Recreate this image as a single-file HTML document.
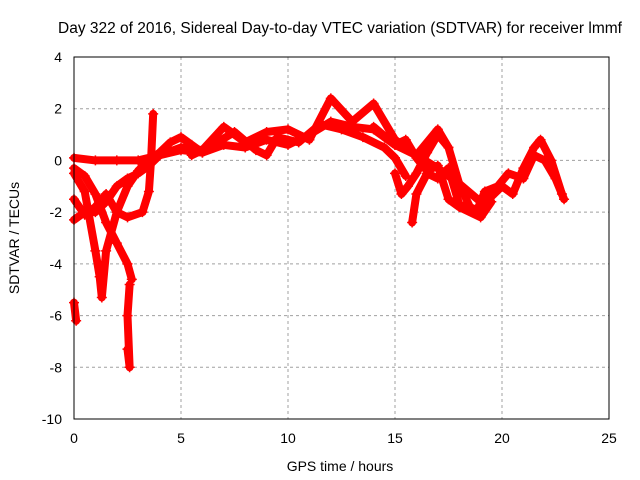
<!DOCTYPE html>
<html><head><meta charset="utf-8"><style>
body{margin:0;background:#fff}
svg{display:block;font-family:"Liberation Sans",sans-serif}
</style></head><body>
<svg id="chart" width="640" height="480" viewBox="0 0 640 480">
<text x="340" y="33" font-size="15.5" text-anchor="middle">Day 322 of 2016, Sidereal Day-to-day VTEC variation (SDTVAR) for receiver lmmf</text>
<text x="340" y="471" font-size="14" text-anchor="middle">GPS time / hours</text>
<text transform="translate(19,238) rotate(-90)" font-size="14" text-anchor="middle">SDTVAR / TECUs</text>
<g id="grid"></g><g id="ticks"></g><g id="series"></g>
<rect x="74" y="57" width="535" height="362" fill="none" stroke="#000" stroke-width="1"/>
</svg>
<script>
const xTicks=[0,5,10,15,20,25];
const yTicks=[4,2,0,-2,-4,-6,-8,-10];
const trackA=[[0,0.1],[1,0],[2,0],[3,0],[4,0.2],[5,0.4],[6,0.3],[7,0.6],[8,0.5],[9,0.8],[10,0.6],[11,1.0],[12,1.5],[13,1.3],[14,1.2],[15,0.6],[16,0.2],[17,-0.3],[18,-0.9],[19,-1.6],[20,-1.0]];
const trackB=[[0,-0.3],[0.5,-0.6],[1,-1.3],[1.5,-2.4],[2,-3.2],[2.5,-4.0],[2.7,-4.6]];
const trackC=[[0,-0.5],[0.5,-1.2],[1,-3.5],[1.2,-4.5],[1.3,-5.3],[1.5,-3.5],[2,-2],[2.5,-1],[3,-0.4],[3.5,0],[4,0.3],[4.5,0.7],[5,0.9],[5.5,0.6],[6,0.3]];
const trackD=[[0,-2.3],[0.5,-2],[1,-2],[1.5,-1.6],[2,-1],[2.5,-0.7],[3,-0.5],[3.5,-0.2],[4,0.2],[5,0.5],[6,0.4],[7,1.3],[8,0.7],[9,1.1],[10,1.2],[11,0.8],[12,2.4],[13,1.5],[14,2.2],[15,0.8],[16,0.2],[17,1.2],[17.5,0.5]];
const trackE=[[0,-1.5],[0.5,-2.1],[1,-1.8],[1.5,-1.3],[2,-2],[2.5,-2.2],[3.2,-2],[3.5,-1.2],[3.6,0],[3.7,1.8]];
const trackF=[[0,-5.5],[0.1,-6.2]];
const trackG=[[2.6,-4.8],[2.5,-6],[2.6,-8],[2.5,-7.3]];
const trackH=[[15,-0.5],[15.3,-1.3],[15.6,-1],[16,-0.5],[16.5,0.3],[17,1],[17.5,0.5],[18,-0.9],[18.5,-1.8],[19,-2],[19.5,-1.4],[20,-1],[20.5,-1.3],[21,-0.3],[21.5,0.5],[21.8,0.8],[22.3,0],[22.8,-1.3]];
const trackI=[[15.8,-2.4],[16,-1.3],[16.5,-0.5],[17,-0.7],[17.5,-0.3],[18,-1.7],[18.8,-2],[19.2,-1.2],[19.8,-1],[20.3,-0.5],[21,-0.7],[21.5,0.2],[22,0],[22.5,-0.7],[22.9,-1.5]];
const trackJ=[[14,1.3],[15,0.6],[15.5,0.8],[16,0.1],[16.5,-0.4],[17,-0.2],[17.5,-1.5],[18,-1.8],[19,-2.2],[19.5,-1.6]];
const trackK=[[5.5,0.2],[6.5,0.6],[7.5,1.1],[8.5,0.4],[9,0.2],[9.5,0.9],[10.5,0.7],[11.5,1.4],[12.5,1.2],[13.5,0.9],[14.5,0.5],[15,0.1],[15.5,-0.6]];
const tracks=[trackA,trackB,trackC,trackD,trackE,trackF,trackG,trackH,trackI,trackJ,trackK];
const X=v=>74+v*21.4, Y=v=>57+(4-v)*25.857;
const NS="http://www.w3.org/2000/svg";
function mk(tag,attrs,parent){const e=document.createElementNS(NS,tag);for(const k in attrs)e.setAttribute(k,attrs[k]);parent.appendChild(e);return e;}
const grid=document.getElementById('grid'),ticks=document.getElementById('ticks'),series=document.getElementById('series');
xTicks.forEach(t=>{
 if(t>0&&t<25){const g=mk('line',{x1:X(t),x2:X(t),y1:57,y2:419,stroke:'#a0a0a0','stroke-dasharray':'3,3'},grid);
 
 }
 const l=mk('text',{x:X(t),y:443,'font-size':14,'text-anchor':'middle'},ticks);l.textContent=t;
 
 
});
yTicks.forEach(t=>{
 if(t<4&&t>-10){const g=mk('line',{x1:74,x2:609,y1:Y(t),y2:Y(t),stroke:'#a0a0a0','stroke-dasharray':'3,3'},grid);
 
 }
 const l=mk('text',{x:62,y:Y(t)+5,'font-size':14,'text-anchor':'end'},ticks);l.textContent=t;
 
 
});
tracks.forEach((tr,i)=>{
 const g=mk('g',{},series);
 
 
 mk('polyline',{points:tr.map(p=>X(p[0])+','+Y(p[1])).join(' '),fill:'none',stroke:'#f00','stroke-width':8,'stroke-linejoin':'round','stroke-linecap':'round'},g);
 tr.forEach(p=>{const x=X(p[0]),y=Y(p[1]);
  mk('path',{d:`M${x-5},${y}H${x+5}M${x},${y-5}V${y+5}`,stroke:'#f00','stroke-width':1.5},g);});
});
</script>
</body></html>
